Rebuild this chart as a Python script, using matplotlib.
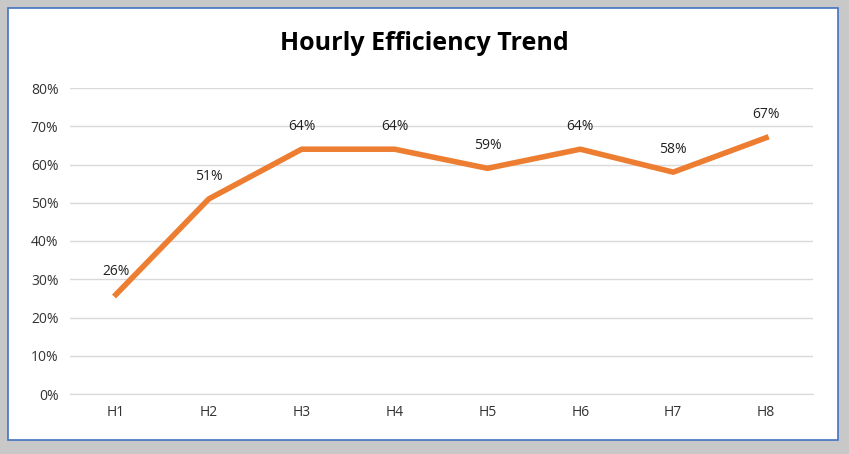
import matplotlib
matplotlib.use("Agg")
import matplotlib.pyplot as plt
from matplotlib.patches import Rectangle

categories = ["H1", "H2", "H3", "H4", "H5", "H6", "H7", "H8"]
values = [26, 51, 64, 64, 59, 64, 58, 67]
yticks = [0, 10, 20, 30, 40, 50, 60, 70, 80]

plt.rcParams['font.family'] = ['Open Sans', 'DejaVu Sans']
fig = plt.figure(figsize=(8.49, 4.54), dpi=100)
fig.patch.set_facecolor('#c8c8c8')
fig.patches.append(Rectangle((8/849, 1-440/454), 830/849, 432/454, transform=fig.transFigure,
                             facecolor='white', edgecolor='#4472c4', linewidth=1.2, zorder=-10))

ax = fig.add_axes([69.5/849, 1-394/454, 743/849, 306/454])
ax.set_zorder(5)
ax.patch.set_alpha(0)
x = list(range(len(categories)))
ax.plot(x, values, color='#ed7d31', linewidth=4, solid_joinstyle='round')
for xi, v in zip(x, values):
    ax.annotate(f"{v}%", (xi, v), xytext=(0, 11), textcoords='offset points',
                ha='center', va='bottom', fontsize=10, color='#222222')
ax.set_xlim(-0.5, len(categories) - 0.5)
ax.set_ylim(0, 80)
ax.set_yticks(yticks)
ax.set_yticklabels([f"{t}%" for t in yticks], fontsize=10, color='#333333')
ax.set_xticks(x)
ax.set_xticklabels(categories, fontsize=10, color='#333333')
ax.grid(axis='y', color='#d9d9d9', linewidth=1)
ax.set_axisbelow(True)
for s in ['top', 'right', 'left']:
    ax.spines[s].set_visible(False)
ax.spines['bottom'].set_color('#d9d9d9')
ax.tick_params(length=0, pad=8)
fig.text(0.5, 1-44/454, "Hourly Efficiency Trend", ha='center', va='center',
         fontsize=18, fontweight='bold', color='black')
fig.savefig("out.png", dpi=100, facecolor=fig.get_facecolor())
